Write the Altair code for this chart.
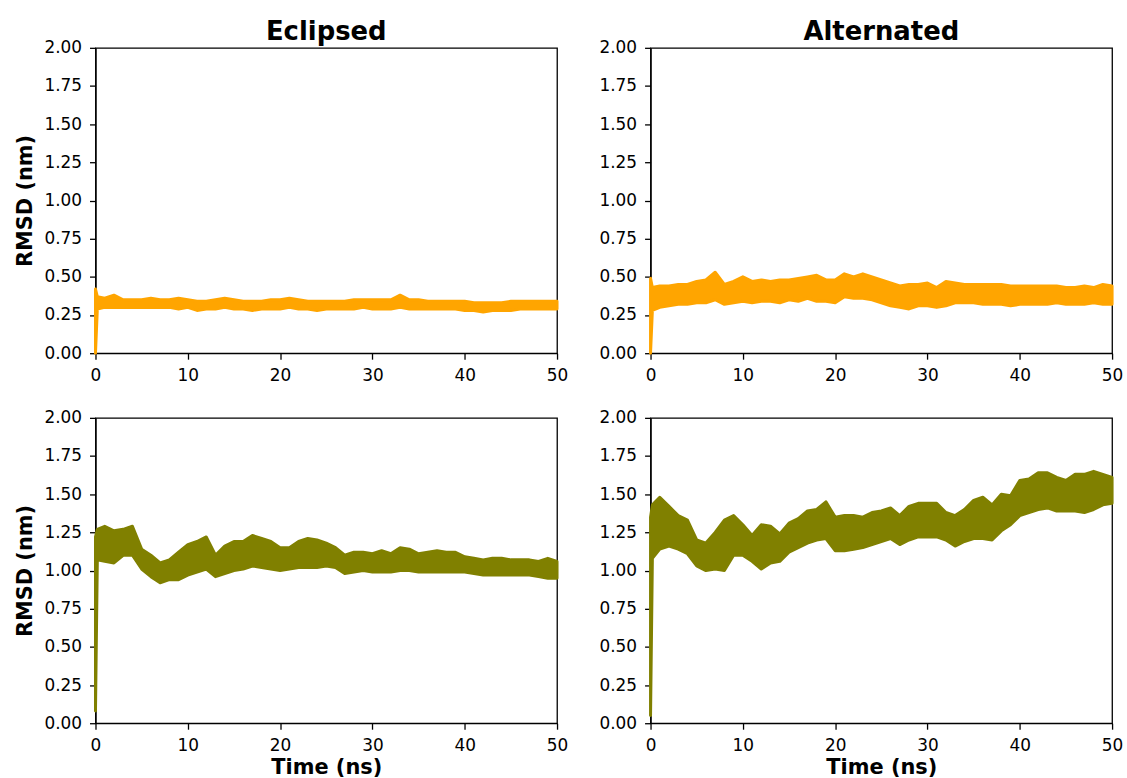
import altair as alt
import pandas as pd

# Time grid (ns)
TIME = [0, 0.2,
        1, 2, 3, 4, 5, 6, 7, 8, 9, 10,
        11, 12, 13, 14, 15, 16, 17, 18, 19, 20,
        21, 22, 23, 24, 25, 26, 27, 28, 29, 30,
        31, 32, 33, 34, 35, 36, 37, 38, 39, 40,
        41, 42, 43, 44, 45, 46, 47, 48, 49, 50]

# Eclipsed, top (orange): band low / high edges of RMSD (nm)
ECL_TOP_LO = [0.00, 0.29,
              0.30, 0.30, 0.30, 0.30, 0.30, 0.30, 0.30, 0.30, 0.29, 0.30,
              0.28, 0.29, 0.29, 0.30, 0.29, 0.29, 0.28, 0.29, 0.29, 0.29,
              0.30, 0.29, 0.29, 0.28, 0.29, 0.29, 0.29, 0.29, 0.30, 0.29,
              0.29, 0.29, 0.30, 0.29, 0.29, 0.29, 0.29, 0.29, 0.29, 0.28,
              0.28, 0.27, 0.28, 0.28, 0.28, 0.29, 0.29, 0.29, 0.29, 0.29]
ECL_TOP_HI = [0.42, 0.37,
              0.36, 0.38, 0.35, 0.35, 0.35, 0.36, 0.35, 0.35, 0.36, 0.35,
              0.34, 0.34, 0.35, 0.36, 0.35, 0.34, 0.34, 0.34, 0.35, 0.35,
              0.36, 0.35, 0.34, 0.34, 0.34, 0.34, 0.34, 0.35, 0.35, 0.35,
              0.35, 0.35, 0.38, 0.35, 0.35, 0.34, 0.34, 0.34, 0.34, 0.34,
              0.33, 0.33, 0.33, 0.33, 0.34, 0.34, 0.34, 0.34, 0.34, 0.34]

# Alternated, top (orange)
ALT_TOP_LO = [0.00, 0.28,
              0.30, 0.31, 0.32, 0.32, 0.33, 0.33, 0.35, 0.32, 0.33, 0.34,
              0.33, 0.34, 0.34, 0.33, 0.35, 0.34, 0.36, 0.34, 0.34, 0.33,
              0.37, 0.36, 0.36, 0.35, 0.33, 0.31, 0.30, 0.29, 0.31, 0.31,
              0.30, 0.31, 0.33, 0.33, 0.33, 0.32, 0.32, 0.32, 0.31, 0.32,
              0.32, 0.32, 0.32, 0.33, 0.32, 0.32, 0.32, 0.33, 0.32, 0.32]
ALT_TOP_HI = [0.49, 0.43,
              0.44, 0.44, 0.45, 0.45, 0.47, 0.48, 0.53, 0.45, 0.47, 0.50,
              0.47, 0.48, 0.47, 0.48, 0.48, 0.49, 0.50, 0.51, 0.48, 0.48,
              0.52, 0.50, 0.52, 0.50, 0.48, 0.46, 0.44, 0.45, 0.45, 0.46,
              0.43, 0.47, 0.46, 0.45, 0.45, 0.45, 0.45, 0.45, 0.44, 0.44,
              0.44, 0.44, 0.44, 0.44, 0.43, 0.43, 0.44, 0.43, 0.45, 0.44]

# Eclipsed, bottom (olive)
ECL_BOT_LO = [0.08, 1.07,
              1.06, 1.05, 1.10, 1.10, 1.01, 0.96, 0.92, 0.94, 0.94, 0.97,
              0.99, 1.01, 0.96, 0.98, 1.00, 1.01, 1.03, 1.02, 1.01, 1.00,
              1.01, 1.02, 1.02, 1.02, 1.03, 1.02, 0.98, 0.99, 1.00, 0.99,
              0.99, 0.99, 1.00, 1.00, 0.99, 0.99, 0.99, 0.99, 0.99, 0.99,
              0.98, 0.97, 0.97, 0.97, 0.97, 0.97, 0.97, 0.96, 0.95, 0.95]
ECL_BOT_HI = [1.22, 1.27,
              1.29, 1.26, 1.27, 1.29, 1.14, 1.10, 1.05, 1.07, 1.12, 1.17,
              1.19, 1.22, 1.10, 1.16, 1.19, 1.19, 1.23, 1.21, 1.19, 1.15,
              1.15, 1.19, 1.21, 1.20, 1.18, 1.15, 1.10, 1.12, 1.12, 1.11,
              1.13, 1.11, 1.15, 1.14, 1.11, 1.12, 1.13, 1.12, 1.12, 1.09,
              1.08, 1.07, 1.08, 1.08, 1.07, 1.07, 1.07, 1.06, 1.08, 1.06]

# Alternated, bottom (olive)
ALT_BOT_LO = [0.05, 1.08,
              1.14, 1.16, 1.14, 1.11, 1.03, 1.00, 1.01, 1.00, 1.10, 1.10,
              1.06, 1.01, 1.05, 1.06, 1.12, 1.15, 1.18, 1.20, 1.21, 1.13,
              1.13, 1.14, 1.15, 1.17, 1.19, 1.21, 1.17, 1.20, 1.22, 1.22,
              1.22, 1.20, 1.16, 1.19, 1.21, 1.21, 1.20, 1.26, 1.30, 1.36,
              1.38, 1.40, 1.41, 1.39, 1.39, 1.39, 1.38, 1.40, 1.43, 1.44]
ALT_BOT_HI = [1.35, 1.43,
              1.48, 1.42, 1.36, 1.33, 1.20, 1.18, 1.25, 1.33, 1.36, 1.30,
              1.23, 1.30, 1.29, 1.24, 1.31, 1.34, 1.39, 1.40, 1.45, 1.35,
              1.36, 1.36, 1.35, 1.38, 1.39, 1.41, 1.36, 1.42, 1.44, 1.44,
              1.44, 1.38, 1.36, 1.40, 1.46, 1.48, 1.43, 1.50, 1.49, 1.59,
              1.60, 1.64, 1.64, 1.61, 1.59, 1.63, 1.63, 1.65, 1.63, 1.61]

X_TICKS = [0, 10, 20, 30, 40, 50]
Y_TICKS = [0.0, 0.25, 0.5, 0.75, 1.0, 1.25, 1.5, 1.75, 2.0]
COL_TITLES = ["Eclipsed", "Alternated"]
X_TITLE = "Time (ns)"
Y_TITLE = "RMSD (nm)"
ORANGE = "#FFA500"
OLIVE = "#808000"

W, H = 464, 307


def panel(lo, hi, color, col_title=None, ytitle=None, xtitle=None):
    df = pd.DataFrame({"t": TIME, "lo": lo, "hi": hi})
    x_axis = alt.Axis(values=X_TICKS, format="d", labelFlush=False, labelOverlap=False,
                      labelPadding=8, titlePadding=4)
    y_axis = alt.Axis(values=Y_TICKS, format=".2f", labelFlush=False, labelOverlap=False,
                      labelPadding=8)
    ch = alt.Chart(df).mark_area(
        color=color, stroke=color, strokeWidth=3, strokeJoin="round",
        interpolate="linear", opacity=1
    ).encode(
        x=alt.X("t:Q", scale=alt.Scale(domain=[0, 50], nice=False, zero=False),
                axis=x_axis, title=xtitle),
        y=alt.Y("lo:Q", scale=alt.Scale(domain=[0, 2], nice=False),
                axis=y_axis, title=ytitle),
        y2="hi:Q",
    )
    props = dict(width=W, height=H)
    if col_title:
        props["title"] = alt.TitleParams(col_title, anchor="middle", frame="group",
                                         baseline="alphabetic", offset=-27)
    return ch.properties(**props)


tl = panel(ECL_TOP_LO, ECL_TOP_HI, ORANGE, col_title=COL_TITLES[0], ytitle=Y_TITLE)
tr = panel(ALT_TOP_LO, ALT_TOP_HI, ORANGE, col_title=COL_TITLES[1])
bl = panel(ECL_BOT_LO, ECL_BOT_HI, OLIVE, ytitle=Y_TITLE, xtitle=X_TITLE)
br = panel(ALT_BOT_LO, ALT_BOT_HI, OLIVE, xtitle=X_TITLE)

chart = alt.vconcat(
    alt.hconcat(tl, tr, spacing=29),
    alt.hconcat(bl, br, spacing=29),
    spacing=24,
).properties(
    padding={"left": 14, "top": 16, "right": 3, "bottom": 0},
    background="white",
).configure_view(
    stroke="black", strokeWidth=1.3
).configure_axis(
    grid=False, domainColor="black", domainWidth=1.3, tickColor="black",
    tickWidth=1.3, tickSize=6, labelColor="black", labelFont="DejaVu Sans",
    labelFontSize=17, titleFont="DejaVu Sans", titleFontSize=21,
    titleFontWeight="bold", titleColor="black", titlePadding=8
).configure_title(
    font="DejaVu Sans", fontSize=26, fontWeight="bold", color="black"
)

chart.save("out.html", embed_options={"renderer": "svg", "actions": False})
